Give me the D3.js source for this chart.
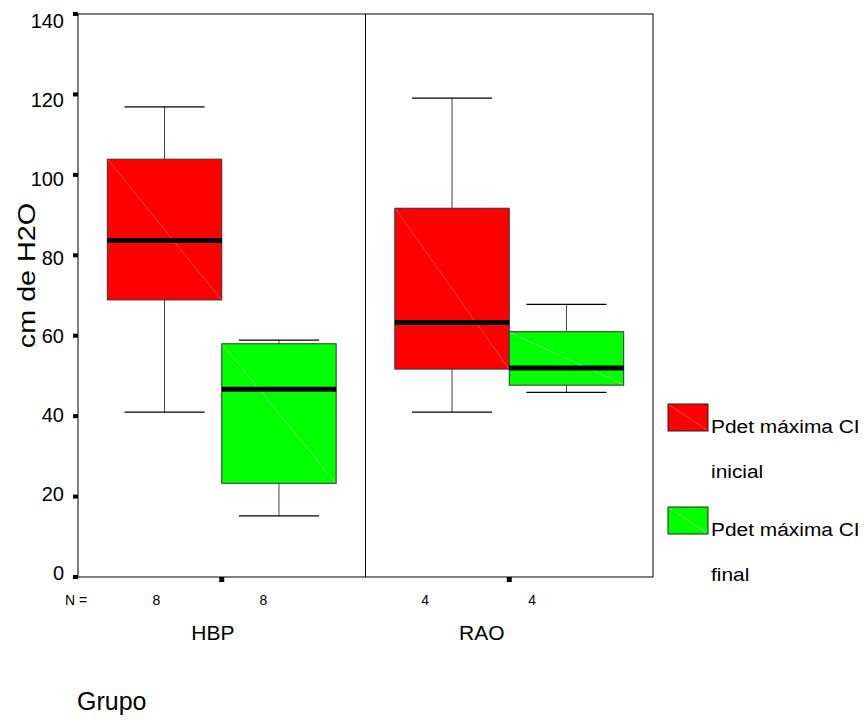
<!DOCTYPE html>
<html>
<head>
<meta charset="utf-8">
<script src="https://cdn.jsdelivr.net/npm/d3@7"></script>
<style>
	body { margin: 0; background: #fff; }
	text { font-family: "Liberation Sans", Arial, sans-serif; fill: #000; }
</style>
</head>
<body>
<div id="chart"></div>
<script>
'use strict'

// groups and series
let groups = ["HBP", "RAO"]
let series = ["Pdet máxima CI inicial", "Pdet máxima CI final"]
let seriesColors = ["#ff0000", "#00ff00"]
let diagColors = ["#ff7a7a", "#8cff8c"]
let counts = [[8, 8], [4, 4]]

// box stats per group, [initial, final]
let whiskerHi = [[116.9, 58.9], [119.1, 67.8]]
let q3 = [[103.9, 58.0], [91.7, 61.0]]
let medians = [[83.7, 46.7], [63.3, 52.0]]
let q1 = [[68.9, 23.3], [51.7, 47.7]]
let whiskerLo = [[41.0, 15.2], [41.0, 45.9]]

let yTicks = [0, 20, 40, 60, 80, 100, 120, 140]

function buildBoxes(){
	let boxes = []
	groups.forEach(function(g, gi){
		series.forEach(function(s, si){
			boxes.push({
				group: g, series: s, si: si,
				hi: whiskerHi[gi][si], q3: q3[gi][si], med: medians[gi][si],
				q1: q1[gi][si], lo: whiskerLo[gi][si], n: counts[gi][si]
			})
		})
	})
	return boxes
}

function render(){
	let width = 866, height = 720
	let plot = {left: 78, right: 653, top: 14, bottom: 577}

	let svg = d3.select("#chart").append("svg")
		.attr("width", width).attr("height", height)

	let yScale = d3.scaleLinear().domain([0, 140]).range([plot.bottom, plot.top])
	let xGroup = d3.scaleBand().domain(groups).range([plot.left, plot.right])
	let bw = xGroup.bandwidth()
	let xSub = d3.scaleBand().domain(series).range([bw * 0.102, bw * 0.898])
	let boxW = xSub.bandwidth()

	let boxes = buildBoxes()
	let boxX = function(d){ return xGroup(d.group) + xSub(d.series) }
	let boxC = function(d){ return boxX(d) + boxW / 2 }
	// the N= and group labels sit on a slightly squeezed scale in the original
	let labelX = function(x){ return 2.6 + 0.935 * x }

	// frame + group divider
	svg.append("rect")
		.attr("x", plot.left).attr("y", plot.top)
		.attr("width", plot.right - plot.left).attr("height", plot.bottom - plot.top)
		.attr("fill", "none").attr("stroke", "#000").attr("stroke-width", 1)
	groups.slice(1).forEach(function(g){
		svg.append("line")
			.attr("x1", xGroup(g)).attr("x2", xGroup(g))
			.attr("y1", plot.top).attr("y2", plot.bottom)
			.attr("stroke", "#000")
	})

	// y ticks: little squares + labels
	svg.selectAll(".ytick").data(yTicks).enter().append("rect")
		.attr("class", "ytick")
		.attr("x", plot.left - 5).attr("y", function(d){ return yScale(d) - 2 })
		.attr("width", 5).attr("height", 4).attr("fill", "#000")
	svg.selectAll(".ylab").data(yTicks).enter().append("text")
		.attr("class", "ylab")
		.attr("x", 64)
		.attr("y", function(d){ return 28 + (yScale(d) - plot.top) * (552 / 563) })
		.attr("text-anchor", "end")
		.style("font-size", "20px")
		.text(function(d){ return d })

	// x ticks at group centres
	svg.selectAll(".xtick").data(groups).enter().append("rect")
		.attr("class", "xtick")
		.attr("x", function(d){ return xGroup(d) + bw / 2 - 2.5 }).attr("y", plot.bottom)
		.attr("width", 5).attr("height", 5).attr("fill", "#000")

	// whiskers
	let wg = svg.append("g")
	wg.selectAll(".stem").data(boxes).enter().append("line")
		.attr("x1", boxC).attr("x2", boxC)
		.attr("y1", function(d){ return yScale(d.hi) })
		.attr("y2", function(d){ return yScale(d.lo) })
		.attr("stroke", "#444").attr("stroke-width", 1)
	;["hi", "lo"].forEach(function(k){
		wg.selectAll(".cap-" + k).data(boxes).enter().append("line")
			.attr("x1", function(d){ return boxC(d) - boxW * 0.35 })
			.attr("x2", function(d){ return boxC(d) + boxW * 0.35 })
			.attr("y1", function(d){ return yScale(d[k]) })
			.attr("y2", function(d){ return yScale(d[k]) })
			.attr("stroke", "#000").attr("stroke-width", 1.2)
	})

	// boxes
	let bg = svg.append("g")
	bg.selectAll(".box").data(boxes).enter().append("rect")
		.attr("x", boxX).attr("y", function(d){ return yScale(d.q3) })
		.attr("width", boxW)
		.attr("height", function(d){ return yScale(d.q1) - yScale(d.q3) })
		.attr("fill", function(d){ return seriesColors[d.si] })
		.attr("stroke", "#333").attr("stroke-width", 1)
	bg.selectAll(".diag").data(boxes).enter().append("line")
		.attr("x1", function(d){ return boxX(d) + 1 }).attr("y1", function(d){ return yScale(d.q3) + 1 })
		.attr("x2", function(d){ return boxX(d) + boxW - 1 }).attr("y2", function(d){ return yScale(d.q1) - 1 })
		.attr("stroke", function(d){ return diagColors[d.si] }).attr("stroke-width", 0.6)
	bg.selectAll(".med").data(boxes).enter().append("line")
		.attr("x1", boxX).attr("x2", function(d){ return boxX(d) + boxW })
		.attr("y1", function(d){ return yScale(d.med) })
		.attr("y2", function(d){ return yScale(d.med) })
		.attr("stroke", "#000").attr("stroke-width", 5)

	// N = row
	svg.append("text").attr("x", 65).attr("y", 605)
		.style("font-size", "14px").text("N =")
	svg.selectAll(".nlab").data(boxes).enter().append("text")
		.attr("x", function(d){ return labelX(boxC(d)) }).attr("y", 605)
		.attr("text-anchor", "middle").style("font-size", "14px")
		.text(function(d){ return d.n })

	// group names
	svg.selectAll(".glab").data(groups).enter().append("text")
		.attr("x", function(d){ return labelX(xGroup(d) + bw / 2) + 3 }).attr("y", 640)
		.attr("text-anchor", "middle").style("font-size", "21px")
		.text(function(d){ return d })

	svg.append("text").attr("x", 77).attr("y", 710)
		.style("font-size", "25px").text("Grupo")

	// y title, stretched along its length like the original
	svg.append("text")
		.attr("transform", "translate(35,275.5) rotate(-90) scale(1.25,1)")
		.attr("text-anchor", "middle").style("font-size", "23px")
		.text("cm de H2O")

	// legend
	let legTop = [404, 507]
	series.forEach(function(s, i){
		let lg = svg.append("g")
		lg.append("rect").attr("x", 668).attr("y", legTop[i])
			.attr("width", 40).attr("height", 27)
			.attr("fill", seriesColors[i]).attr("stroke", "#222")
		lg.append("line").attr("x1", 669).attr("y1", legTop[i] + 1)
			.attr("x2", 707).attr("y2", legTop[i] + 26)
			.attr("stroke", diagColors[i]).attr("stroke-width", 0.6)
		let words = s.split(" ")
		let lines = [words.slice(0, 3).join(" "), words.slice(3).join(" ")]
		lines.forEach(function(t, li){
			lg.append("text")
				.attr("transform", "translate(711," + (legTop[i] + 29 + li * 45) + ") scale(1.1,1)")
				.style("font-size", "19px")
				.text(t)
		})
	})
}

render()
</script>
</body>
</html>
